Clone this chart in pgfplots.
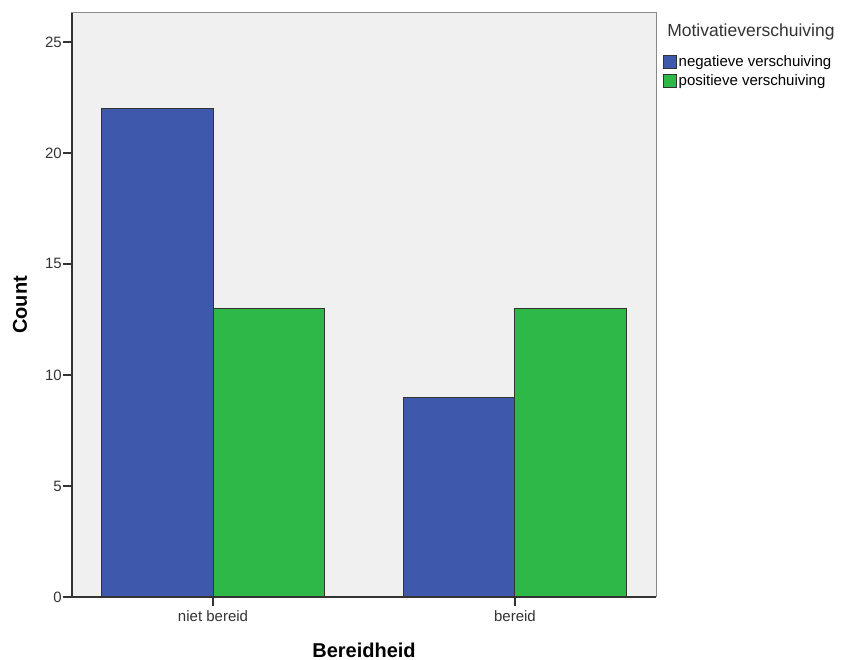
\documentclass[border=0pt]{standalone}
\usepackage{fontspec}
\setmainfont{Liberation Sans}
\usepackage{pgfplots}
\pgfplotsset{compat=1.18}
\definecolor{barblue}{HTML}{3E58AC}
\definecolor{bargreen}{HTML}{2EB848}
\definecolor{plotbg}{HTML}{F0F0F0}
\definecolor{axdark}{HTML}{333333}
\definecolor{axgray}{HTML}{8A8A8A}
\begin{document}
\begin{tikzpicture}[x=1pt,y=1pt]
\useasboundingbox (0,0) rectangle (841,660);
\begin{axis}[
  at={(72pt,63pt)}, anchor=south west,
  scale only axis, width=584pt, height=584pt,
  xmin=-0.467, xmax=1.467, ymin=0, ymax=26.3,
  axis background/.style={fill=plotbg},
  axis line style={draw=axgray, line width=1pt},
  xtick={0,1}, xticklabels={niet bereid, bereid},
  ytick={0,5,10,15,20,25},
  xtick pos=bottom, ytick pos=left,
  tick align=outside,
  major tick length=9pt,
  tick style={draw=axdark, line width=1.3pt},
  /pgf/number format/assume math mode=true,
  tick label style={font=\fontsize{15}{17}\selectfont, text=axdark},
  yticklabel style={inner sep=1pt},
  xticklabel style={yshift=-1pt},
  xlabel={\bfseries Bereidheid},
  ylabel={\bfseries Count},
  label style={font=\fontsize{20}{24}\selectfont},
  xlabel style={at={(rel axis cs:0.5,-0.0908)}, anchor=center},
  ylabel style={at={(rel axis cs:-0.089,0.5)}, anchor=center, rotate=0},
  legend style={at={(rel axis cs:1.012,0.929)}, anchor=north west, draw=none, fill=none,
    font=\fontsize{15}{17}\selectfont, inner sep=0pt, row sep=4.5pt,
    nodes={inner xsep=1.5pt, inner ysep=1pt}},
  legend cell align=left,
  legend image code/.code={\draw[#1] (0pt,-6.5pt) rectangle (13pt,6.5pt);},
  clip=false,
]
\addplot[ybar, bar width=0.368, bar shift=-0.184, fill=barblue, draw=axdark, line width=1pt]
  coordinates {(0,22) (1,9)};
\addlegendentry{negatieve verschuiving}
\addplot[ybar, bar width=0.368, bar shift=0.184, fill=bargreen, draw=axdark, line width=1pt]
  coordinates {(0,13) (1,13)};
\addlegendentry{positieve verschuiving}
\draw[axdark, line width=1.2pt] (rel axis cs:0,0) -- (rel axis cs:0,1);
\draw[axdark, line width=1.2pt] (rel axis cs:0,0) -- (rel axis cs:1,0);
\node[anchor=west, font=\fontsize{17.5}{20}\selectfont, text=axdark, inner sep=0pt]
  at (rel axis cs:1.019,0.967) {Motivatieverschuiving};
\end{axis}
\end{tikzpicture}
\end{document}
